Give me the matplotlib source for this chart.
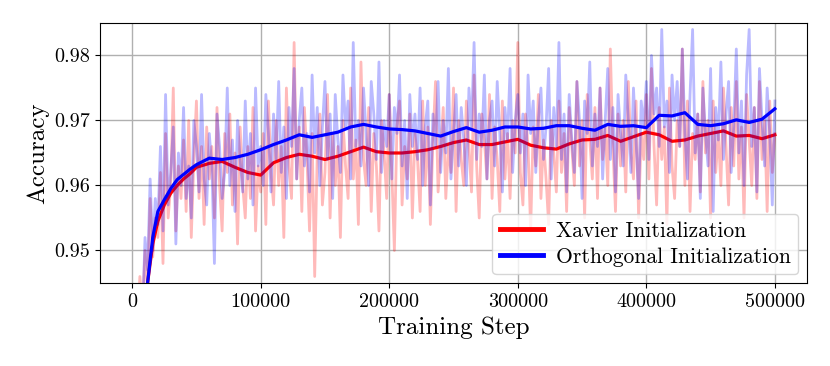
import numpy as np
import matplotlib
matplotlib.use("Agg")
import matplotlib.pyplot as plt


raw_steps = list(range(2000, 500001, 2000))

xavier_raw = [
	0.930, 0.938, 0.946, 0.941, 0.950, 0.944, 0.958, 0.949, 0.955, 0.952,
	0.962, 0.948, 0.968, 0.955, 0.960, 0.975, 0.953, 0.963, 0.958, 0.967,
	0.956, 0.970, 0.952, 0.964, 0.973, 0.958, 0.966, 0.954, 0.969, 0.961,
	0.966, 0.955, 0.972, 0.960, 0.953, 0.968, 0.962, 0.971, 0.957, 0.965,
	0.951, 0.969, 0.960, 0.955, 0.966, 0.958, 0.972, 0.953, 0.963, 0.959,
	0.968, 0.954, 0.973, 0.962, 0.957, 0.970, 0.960, 0.966, 0.952, 0.975,
	0.963, 0.958, 0.982, 0.961, 0.969, 0.956, 0.972, 0.964, 0.953, 0.968,
	0.946, 0.965, 0.971, 0.957, 0.962, 0.974, 0.955, 0.968, 0.960, 0.966,
	0.952, 0.970, 0.963, 0.958, 0.975, 0.961, 0.967, 0.954, 0.979, 0.964,
	0.960, 0.972, 0.956, 0.968, 0.963, 0.953, 0.970, 0.965, 0.958, 0.974,
	0.962, 0.950, 0.969, 0.973, 0.957, 0.966, 0.961, 0.971, 0.955, 0.968,
	0.964, 0.956, 0.973, 0.960, 0.969, 0.954, 0.967, 0.976, 0.959, 0.965,
	0.972, 0.958, 0.966, 0.962, 0.975, 0.956, 0.970, 0.964, 0.960, 0.973,
	0.966, 0.959, 0.977, 0.963, 0.955, 0.971, 0.967, 0.961, 0.974, 0.958,
	0.969, 0.964, 0.956, 0.973, 0.961, 0.968, 0.958, 0.970, 0.965, 0.982,
	0.962, 0.957, 0.971, 0.966, 0.953, 0.969, 0.963, 0.974, 0.958, 0.967,
	0.961, 0.954, 0.970, 0.965, 0.959, 0.973, 0.962, 0.968, 0.956, 0.972,
	0.966, 0.960, 0.976, 0.963, 0.970, 0.955, 0.974, 0.967, 0.961, 0.972,
	0.958, 0.975, 0.964, 0.969, 0.960, 0.981, 0.966, 0.956, 0.971, 0.963,
	0.970, 0.959, 0.976, 0.965, 0.961, 0.973, 0.955, 0.968, 0.964, 0.974,
	0.961, 0.978, 0.966, 0.957, 0.972, 0.964, 0.969, 0.954, 0.975, 0.963,
	0.958, 0.970, 0.966, 0.981, 0.960, 0.973, 0.956, 0.968, 0.964, 0.971,
	0.959, 0.976, 0.965, 0.970, 0.955, 0.973, 0.962, 0.968, 0.960, 0.975,
	0.966, 0.957, 0.972, 0.963, 0.976, 0.961, 0.969, 0.955, 0.974, 0.967,
	0.960, 0.972, 0.958, 0.976, 0.964, 0.970, 0.956, 0.973, 0.962, 0.968,
]

orthogonal_raw = [
	0.928, 0.935, 0.944, 0.939, 0.952, 0.947, 0.961, 0.950, 0.958, 0.954,
	0.966, 0.953, 0.974, 0.957, 0.962, 0.969, 0.951, 0.965, 0.960, 0.972,
	0.958, 0.963, 0.955, 0.970, 0.966, 0.959, 0.974, 0.961, 0.957, 0.968,
	0.963, 0.948, 0.971, 0.966, 0.958, 0.962, 0.975, 0.960, 0.967, 0.956,
	0.970, 0.964, 0.959, 0.973, 0.961, 0.968, 0.957, 0.975, 0.963, 0.966,
	0.960, 0.974, 0.968, 0.959, 0.971, 0.964, 0.976, 0.962, 0.969, 0.958,
	0.972, 0.966, 0.978, 0.961, 0.970, 0.975, 0.963, 0.968, 0.959, 0.977,
	0.965, 0.972, 0.960, 0.969, 0.976, 0.964, 0.971, 0.958, 0.974, 0.967,
	0.962, 0.977, 0.969, 0.973, 0.961, 0.982, 0.966, 0.970, 0.963, 0.975,
	0.968, 0.960, 0.976, 0.971, 0.964, 0.979, 0.962, 0.970, 0.966, 0.974,
	0.961, 0.972, 0.968, 0.977, 0.963, 0.970, 0.958, 0.974, 0.966, 0.971,
	0.964, 0.975, 0.960, 0.969, 0.973, 0.957, 0.971, 0.966, 0.976, 0.962,
	0.970, 0.965, 0.978, 0.961, 0.968, 0.974, 0.963, 0.972, 0.967, 0.960,
	0.975, 0.969, 0.982, 0.964, 0.971, 0.966, 0.977, 0.961, 0.970, 0.973,
	0.963, 0.976, 0.968, 0.959, 0.972, 0.967, 0.978, 0.962, 0.970, 0.974,
	0.965, 0.971, 0.960, 0.977, 0.968, 0.973, 0.962, 0.970, 0.975, 0.964,
	0.969, 0.978, 0.961, 0.972, 0.966, 0.982, 0.964, 0.971, 0.959, 0.974,
	0.967, 0.962, 0.976, 0.970, 0.958, 0.973, 0.968, 0.979, 0.963, 0.971,
	0.966, 0.975, 0.961, 0.970, 0.978, 0.964, 0.972, 0.959, 0.974, 0.968,
	0.963, 0.977, 0.970, 0.962, 0.975, 0.967, 0.958, 0.973, 0.969, 0.976,
	0.964, 0.980, 0.971, 0.975, 0.966, 0.984, 0.969, 0.973, 0.962, 0.977,
	0.970, 0.976, 0.966, 0.981, 0.968, 0.961, 0.974, 0.984, 0.965, 0.971,
	0.958, 0.975, 0.968, 0.963, 0.978, 0.956, 0.972, 0.967, 0.979, 0.964,
	0.971, 0.976, 0.962, 0.969, 0.981, 0.965, 0.973, 0.960, 0.977, 0.984,
	0.966, 0.972, 0.959, 0.978, 0.970, 0.963, 0.975, 0.968, 0.957, 0.973,
]

smooth_steps = [8000, 12000, 16000, 20000, 25000, 30000, 35000, 40000, 45000] + \
	list(range(50000, 500001, 10000))

xavier_smooth = [
	0.936, 0.945, 0.951, 0.9545, 0.9570, 0.9588, 0.9600, 0.9610, 0.9618,
	0.9628, 0.9634, 0.9637, 0.9628, 0.9620, 0.9616, 0.9635, 0.9643, 0.9648, 0.9645,
	0.9640, 0.9645, 0.9652, 0.9659, 0.9652, 0.9650, 0.9650, 0.9652, 0.9655, 0.9660,
	0.9666, 0.9670, 0.9663, 0.9663, 0.9667, 0.9671, 0.9662, 0.9658, 0.9656, 0.9664,
	0.9670, 0.9671, 0.9677, 0.9668, 0.9675, 0.9682, 0.9678, 0.9668, 0.9670, 0.9676,
	0.9680, 0.9684, 0.9676, 0.9677, 0.9672, 0.9678,
]

orthogonal_smooth = [
	0.935, 0.945, 0.952, 0.9560, 0.9578, 0.9595, 0.9609, 0.9617, 0.9625,
	0.9632, 0.9642, 0.9640, 0.9643, 0.9648, 0.9655, 0.9663, 0.9670, 0.9678, 0.9674,
	0.9678, 0.9682, 0.9690, 0.9694, 0.9690, 0.9687, 0.9686, 0.9684, 0.9680, 0.9676,
	0.9683, 0.9689, 0.9682, 0.9685, 0.9690, 0.9690, 0.9687, 0.9688, 0.9692, 0.9692,
	0.9688, 0.9685, 0.9694, 0.9691, 0.9692, 0.9689, 0.9708, 0.9707, 0.9712, 0.9694,
	0.9692, 0.9695, 0.9701, 0.9697, 0.9702, 0.9718,
]

y_ticks = [0.95, 0.96, 0.97, 0.98]
x_ticks = [0, 100000, 200000, 300000, 400000, 500000]

plt.rcParams["font.family"] = "serif"
plt.rcParams["font.serif"] = ["cmr10"]
plt.rcParams["mathtext.fontset"] = "cm"
plt.rcParams["axes.unicode_minus"] = False
plt.rcParams["axes.formatter.use_mathtext"] = True

fig = plt.figure(figsize=(8.3, 3.66), dpi=100)
ax = fig.add_axes([0.1205, 0.2268, 0.8518, 0.7104])

ax.plot(raw_steps, xavier_raw, color="red", alpha=0.27, lw=2.0)
ax.plot(smooth_steps, xavier_smooth, color="red", lw=2.3, label="Xavier Initialization")
ax.plot(raw_steps, orthogonal_raw, color="blue", alpha=0.27, lw=2.0)
ax.plot(smooth_steps, orthogonal_smooth, color="blue", lw=2.3, label="Orthogonal Initialization")

ax.set_xlim(-25000, 525000)
ax.set_ylim(0.945, 0.985)
ax.set_xticks(x_ticks)
ax.set_xticklabels([str(t) for t in x_ticks])
ax.set_yticks(y_ticks)
ax.set_yticklabels(["0.95", "0.96", "0.97", "0.98"])
ax.tick_params(labelsize=14.5)
ax.grid(True, color="#b0b0b0", lw=1)

ax.set_xlabel("Training Step", fontsize=18)
ax.set_ylabel("Accuracy", fontsize=18)

leg = ax.legend(loc="lower right", fontsize=15.5, handlelength=2.0,
	borderaxespad=0.4, labelspacing=0.3, handletextpad=0.6, borderpad=0.35)
for line in leg.get_lines():
	line.set_linewidth(3.5)

fig.savefig("out.png", dpi=100)
